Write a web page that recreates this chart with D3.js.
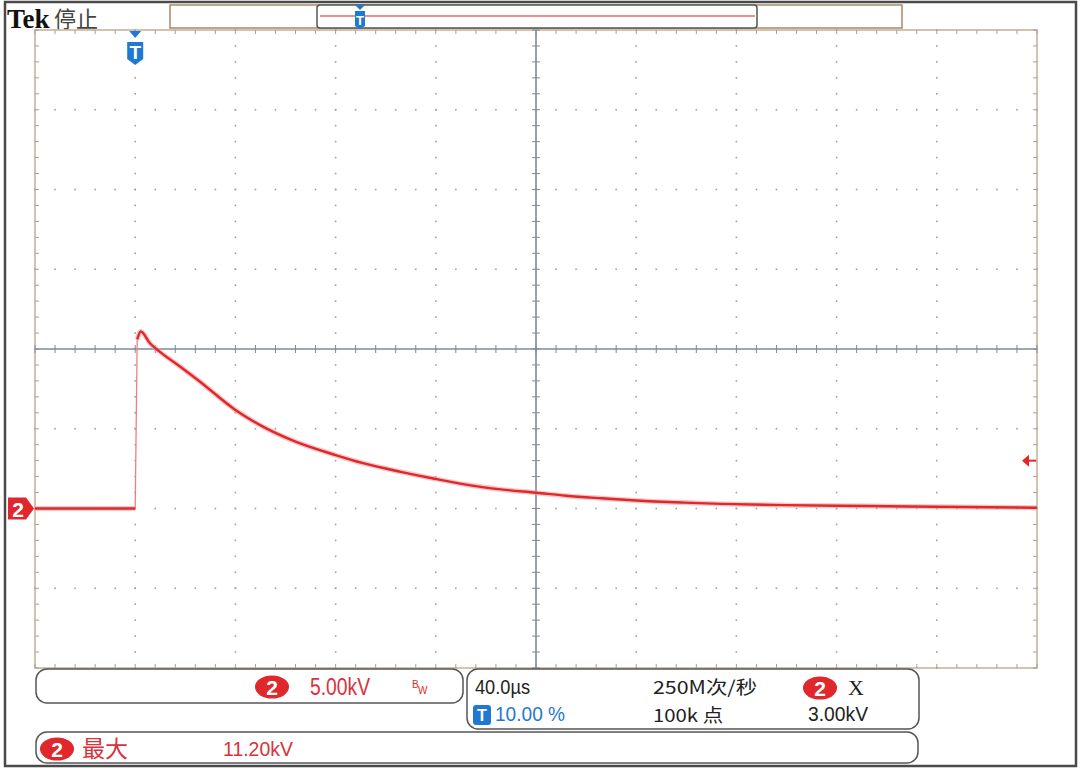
<!DOCTYPE html>
<html><head><meta charset="utf-8">
<script src="https://cdn.jsdelivr.net/npm/d3@7"></script>
<style>
html,body{margin:0;padding:0;background:#fff;}
svg{display:block;}
text{font-family:"Liberation Sans",Arial,sans-serif;}
.cjk{font-family:"Noto Sans CJK SC","Liberation Sans",sans-serif;}
</style></head>
<body>
<svg id="c" width="1080" height="770"></svg>
<script>
// ---- data ----
const timeUs = [-40, 0, 0.8, 2.2, 5.9, 10, 18, 25, 40, 51, 64, 80, 91, 106, 119, 132, 146, 160, 172, 186, 200, 219, 234, 260, 292, 330, 360];
const voltKV = [0, 0, 10.6, 11.1, 10.36, 9.80, 8.89, 8.06, 6.18, 5.13, 4.19, 3.35, 2.84, 2.30, 1.88, 1.50, 1.20, 0.99, 0.80, 0.64, 0.50, 0.37, 0.29, 0.21, 0.16, 0.09, 0.05];
const timeDomain = [-40, 360];      // 10 div x 40 us
const voltDomain = [-10, 30];       // 8 div x 5 kV, ground 2 div below centre
const voltScale = "5.00kV";
const timeScale = "40.0µs";
const sampleRate = "250M次/秒";
const recordLen = "100k 点";
const triggerPos = "10.00 %";
const triggerLevel = 3.00;
const triggerLevelLabel = "3.00kV";
const maxLabel = "最大";
const maxValue = "11.20kV";
const statusText = "停止";

const svg = d3.select("#c");
const L = 35, R = 1037, T = 30, B = 668;
const x = d3.scaleLinear().domain(timeDomain).range([L, R]);
const y = d3.scaleLinear().domain(voltDomain).range([B, T]);
const RED = "#e0282c", TXTRED = "#d8323c", BLUE = "#1f78d1", GRID = "#a0a0a0", FRAME = "#c8ae92";

// outer frame lines
svg.append("rect").attr("x",5).attr("y",2).attr("width",1071).attr("height",764)
  .attr("fill","none").attr("stroke","#4a4a4a").attr("stroke-width",2.5);

// header
svg.append("text").attr("x",7).attr("y",28).text("Tek")
  .style("font-family","'Liberation Serif',serif").style("font-weight","bold").style("font-size","27px").attr("fill","#111");
svg.append("text").attr("class","cjk").attr("x",54).attr("y",27).text(statusText)
  .style("font-size","22px").attr("fill","#444");

// record overview box
svg.append("rect").attr("x",170).attr("y",5).attr("width",732).attr("height",23)
  .attr("fill","#fff").attr("stroke","#a8886a").attr("stroke-width",1.5);
svg.append("rect").attr("x",317).attr("y",5).attr("width",440).attr("height",23).attr("rx",3)
  .attr("fill","#fff").attr("stroke","#555").attr("stroke-width",1.5);
svg.append("line").attr("x1",320).attr("x2",755).attr("y1",16).attr("y2",16)
  .attr("stroke","#e06a6a").attr("stroke-width",1.5);
// small trigger marker in overview
const ovx = 360;
svg.append("path").attr("d",`M${ovx-5},5 L${ovx+5},5 L${ovx},10 Z`).attr("fill",BLUE);
svg.append("path").attr("d",`M${ovx-5},11 L${ovx+5},11 L${ovx+5},26 L${ovx},29 L${ovx-5},26 Z`).attr("fill",BLUE);
svg.append("text").attr("x",ovx).attr("y",25).attr("text-anchor","middle").text("T")
  .style("font-size","13px").style("font-weight","bold").attr("fill","#fff");

// plot frame
svg.append("rect").attr("x",L).attr("y",T).attr("width",R-L).attr("height",B-T)
  .attr("fill","#fff").attr("stroke",FRAME).attr("stroke-width",1.5);

const g = svg.append("g");
const xMajors = d3.range(timeDomain[0], timeDomain[1]+0.01, 40);
const yMajors = d3.range(voltDomain[0], voltDomain[1]+0.01, 5);
const xMinors = d3.range(timeDomain[0], timeDomain[1]+0.01, 8);
const yMinors = d3.range(voltDomain[0], voltDomain[1]+0.01, 1);
const cx = 160, cy = 10;

// dotted grid along major lines
yMajors.forEach(v => {
  if (v === cy || v === voltDomain[0] || v === voltDomain[1]) return;
  xMinors.forEach(t => {
    g.append("rect").attr("x",x(t)-0.8).attr("y",y(v)-0.8).attr("width",1.6).attr("height",1.6).attr("fill",GRID);
  });
});
xMajors.forEach(t => {
  if (t === cx || t === timeDomain[0] || t === timeDomain[1]) return;
  yMinors.forEach(v => {
    g.append("rect").attr("x",x(t)-0.8).attr("y",y(v)-0.8).attr("width",1.6).attr("height",1.6).attr("fill",GRID);
  });
});
// edge ticks
xMinors.forEach(t => {
  g.append("line").attr("x1",x(t)).attr("x2",x(t)).attr("y1",T).attr("y2",T+4).attr("stroke",GRID);
  g.append("line").attr("x1",x(t)).attr("x2",x(t)).attr("y1",B-4).attr("y2",B).attr("stroke",GRID);
});
yMinors.forEach(v => {
  g.append("line").attr("x1",L).attr("x2",L+4).attr("y1",y(v)).attr("y2",y(v)).attr("stroke",GRID);
  g.append("line").attr("x1",R-4).attr("x2",R).attr("y1",y(v)).attr("y2",y(v)).attr("stroke",GRID);
});
// centre crosshair
const CROSS = "#7d8b99";
g.append("line").attr("x1",L).attr("x2",R).attr("y1",y(cy)).attr("y2",y(cy)).attr("stroke",CROSS).attr("stroke-width",1.6);
g.append("line").attr("x1",x(cx)).attr("x2",x(cx)).attr("y1",T).attr("y2",B).attr("stroke",CROSS).attr("stroke-width",1.6);
xMinors.forEach(t => {
  g.append("line").attr("x1",x(t)).attr("x2",x(t)).attr("y1",y(cy)-4).attr("y2",y(cy)+4).attr("stroke",CROSS);
});
yMinors.forEach(v => {
  g.append("line").attr("x1",x(cx)-4).attr("x2",x(cx)+4).attr("y1",y(v)).attr("y2",y(v)).attr("stroke",CROSS);
});

// waveform
const pts = timeUs.map((t,i)=>[t, voltKV[i]]);
const line = d3.line().x(d=>x(d[0])).y(d=>y(d[1]));
const smooth = d3.line().x(d=>x(d[0])).y(d=>y(d[1])).curve(d3.curveMonotoneX);
const pre = pts.filter(d=>d[0]<=0);
const edge = pts.slice(1,3);
const post = pts.filter(d=>d[0]>=0.8);
g.append("path").attr("d",line(edge)).attr("fill","none").attr("stroke","#f08080").attr("stroke-width",1.3);
[[pre,line],[post,smooth]].forEach(([p,gen]) => {
  g.append("path").attr("d",gen(p)).attr("fill","none").attr("stroke","#f4a0a0").attr("stroke-width",5).attr("stroke-opacity",0.6).attr("stroke-linejoin","round");
  g.append("path").attr("d",gen(p)).attr("fill","none").attr("stroke",RED).attr("stroke-width",2.4).attr("stroke-linejoin","round");
});

// trigger position marker
const tx = x(0);
svg.append("path").attr("d",`M${tx-6},31 L${tx+6},31 L${tx},38 Z`).attr("fill",BLUE);
svg.append("path").attr("d",`M${tx-8},42 L${tx+8},42 L${tx+8},59 L${tx},65 L${tx-8},59 Z`).attr("fill",BLUE);
svg.append("text").attr("x",tx).attr("y",59).attr("text-anchor","middle").text("T")
  .style("font-size","19px").style("font-weight","bold").attr("fill","#fff");

// ch2 ground marker
const gy = y(0);
svg.append("path").attr("d",`M8,${gy-11} L26,${gy-11} L34,${gy} L26,${gy+11} L8,${gy+11} Z`).attr("fill",RED);
svg.append("text").attr("x",18).attr("y",gy+8).attr("text-anchor","middle").text("2")
  .style("font-size","21px").style("font-weight","bold").attr("fill","#fff");

// trigger level marker
const ty = y(triggerLevel);
svg.append("path").attr("d",`M1022,${ty} L1029,${ty-6} L1029,${ty+6} Z`).attr("fill",RED);
svg.append("line").attr("x1",1028).attr("x2",1036).attr("y1",ty).attr("y2",ty).attr("stroke",RED).attr("stroke-width",2);

// bottom boxes
function box(x0,y0,w,h){
  svg.append("rect").attr("x",x0).attr("y",y0).attr("width",w).attr("height",h).attr("rx",11)
    .attr("fill","#fff").attr("stroke","#555").attr("stroke-width",1.5);
}
function badge(cx0,cy0){
  svg.append("ellipse").attr("cx",cx0).attr("cy",cy0).attr("rx",17).attr("ry",11.5).attr("fill",RED);
  svg.append("text").attr("x",cx0).attr("y",cy0+8).attr("text-anchor","middle").text("2")
    .style("font-size","21px").style("font-weight","bold").attr("fill","#fff");
}
function label(x0,y0,str,size,color,len,cls){
  const t = svg.append("text").attr("x",x0).attr("y",y0).text(str).style("font-size",size+"px").attr("fill",color);
  if (cls) t.attr("class",cls);
  if (len) t.attr("textLength",len).attr("lengthAdjust","spacingAndGlyphs");
  return t;
}
box(36,669,427,34);
box(467,669,452,60);
box(36,732,882,31);

badge(272,687);
label(310,695,voltScale,23,TXTRED,60);
label(412,688,"B",10,RED);
label(418,694,"W",10,RED);

label(475,694,timeScale,21,"#222",55);
label(653,694,sampleRate,18,"#222",104,"cjk");
badge(820,688);
svg.append("text").attr("x",848).attr("y",695).text("X").style("font-family","'Liberation Serif',serif").style("font-size","22px").attr("fill","#222");

svg.append("rect").attr("x",473).attr("y",705).attr("width",18).attr("height",20).attr("rx",3).attr("fill",BLUE);
svg.append("text").attr("x",482).attr("y",721).attr("text-anchor","middle").text("T").style("font-size","16px").style("font-weight","bold").attr("fill","#fff");
label(495,721,triggerPos,21,BLUE,70);
label(653,722,recordLen,18,"#222",70,"cjk");
label(808,721,triggerLevelLabel,21,"#222",60);

badge(57,749);
label(82,757,maxLabel,23,TXTRED,46,"cjk");
label(223,756,maxValue,21,TXTRED,70);
</script>
</body></html>
